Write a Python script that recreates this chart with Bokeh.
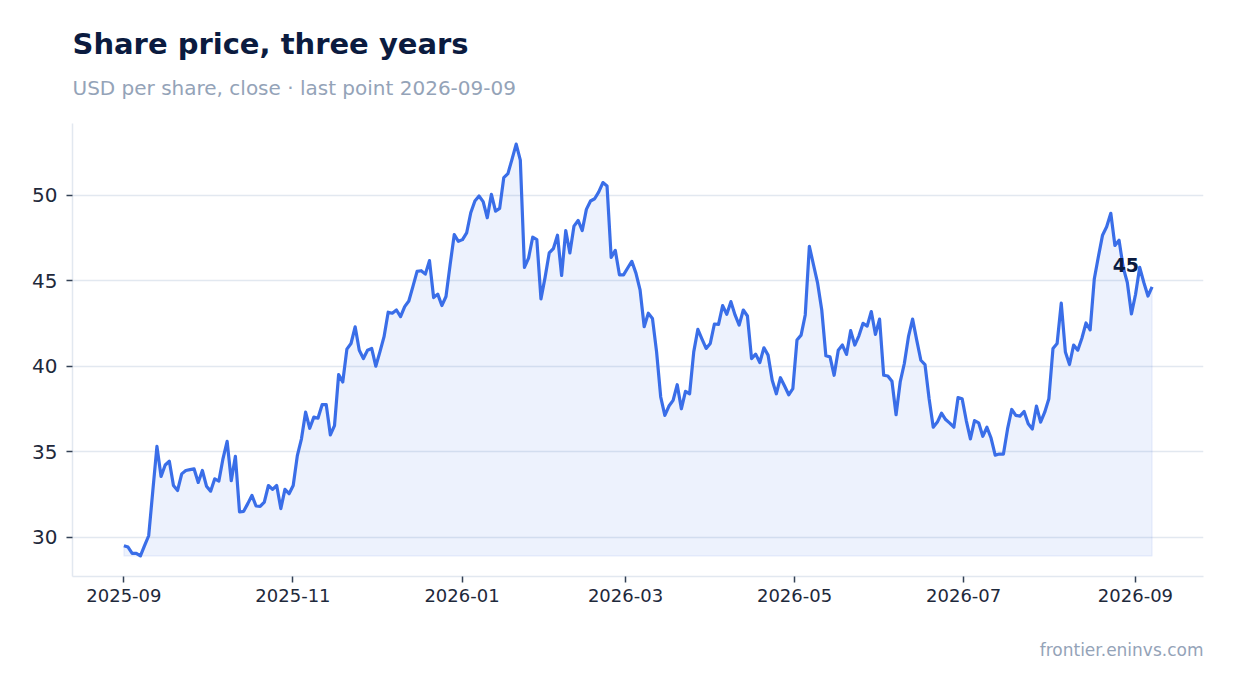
import numpy as np
import pandas as pd
from bokeh.plotting import figure
from bokeh.models import Range1d, Title, FixedTicker, MonthsTicker, DatetimeTickFormatter
from bokeh.core.properties import value
from bokeh.embed import file_html
from bokeh.resources import INLINE

# ---- data -------------------------------------------------------------
title_text = "Share price, three years"
subtitle_text = "USD per share, close \u00b7 last point 2026-09-09"
footer_text = "frontier.eninvs.com"
start_date = "2025-09-01"
end_date = "2026-09-07"

close = [
    29.50, 29.42, 29.05, 29.05, 28.90, 29.50, 30.08, 32.70, 35.31, 33.55,
    34.22, 34.44, 33.02, 32.73, 33.70, 33.90, 33.95, 33.99, 33.20, 33.90,
    32.98, 32.69, 33.41, 33.28, 34.60, 35.60, 33.30, 34.73, 31.47, 31.51,
    31.96, 32.44, 31.82, 31.80, 32.05, 33.02, 32.79, 33.02, 31.67, 32.79,
    32.54, 33.02, 34.77,
    35.75, 37.31, 36.37, 37.02, 36.96, 37.75, 37.75, 35.98, 36.53, 39.51,
    39.08, 41.00, 41.33, 42.31, 40.94, 40.45, 40.94, 41.04, 40.00, 40.84,
    41.73, 43.16, 43.10, 43.29, 42.90, 43.49, 43.82, 44.67, 45.55, 45.59,
    45.39, 46.18, 44.02, 44.22, 43.55, 44.08, 45.94, 47.70, 47.31, 47.41,
    47.80,
    48.98, 49.67, 49.96, 49.63, 48.69, 50.06, 49.08, 49.24, 51.04, 51.27,
    52.12, 53.00, 52.06, 45.78, 46.33, 47.55, 47.41, 43.94, 45.20, 46.63,
    46.88, 47.67, 45.31, 47.94, 46.63, 48.20, 48.53, 47.94, 49.18, 49.67,
    49.80, 50.20, 50.75, 50.55, 46.37, 46.78, 45.35, 45.35, 45.75, 46.14,
    45.45,
    44.47, 42.31, 43.10, 42.80, 40.84, 38.20, 37.12, 37.67, 38.00, 38.92,
    37.51, 38.53, 38.39, 40.84, 42.16, 41.59, 41.04, 41.33, 42.47, 42.45,
    43.55, 43.04, 43.78, 43.00, 42.41, 43.29,
    42.94, 40.45, 40.71, 40.22, 41.08, 40.65, 39.18, 38.39, 39.33, 38.84,
    38.33, 38.69, 41.53, 41.82, 43.00, 47.02, 45.94, 44.86, 43.29, 40.61,
    40.55, 39.47, 40.94, 41.24, 40.69, 42.08, 41.24, 41.78,
    42.51, 42.35, 43.20, 41.86, 42.76, 39.47, 39.43, 39.12, 37.16, 39.08,
    40.16, 41.73, 42.76, 41.53, 40.35, 40.10, 38.10, 36.43, 36.73, 37.25,
    36.88, 36.67, 36.43, 38.16, 38.10, 36.82, 35.75,
    36.82, 36.69, 35.90, 36.43, 35.80, 34.80, 34.86, 34.86, 36.33, 37.47,
    37.12, 37.08, 37.35, 36.63, 36.33, 37.67, 36.73, 37.31, 38.10, 41.04,
    41.33, 43.69, 40.84, 40.10, 41.24, 40.94,
    41.64, 42.53, 42.13, 45.10, 46.42, 47.67, 48.16, 48.95, 47.07, 47.37,
    45.79, 44.90, 43.06, 44.21, 45.79, 44.90, 44.11, 44.64,
]
y_ticks = [30, 35, 40, 45, 50]
tick_months = [1, 3, 5, 7, 9, 11]

# ---- derived ----------------------------------------------------------
dates = pd.date_range(start_date, end_date, periods=len(close))
ymin, ymax = min(close), max(close)
yspan = ymax - ymin
t0, t1 = dates[0], dates[-1]
tpad = (t1 - t0) * 0.05

LINE = "#3a6ee8"
NAVY = "#0b1b3f"
MUTED = "#94a3b8"
GRID = "#e2e8f0"
FONT = "DejaVu Sans"

W, H = 1226, 693
p = figure(
    width=W, height=H,
    x_axis_type="datetime",
    x_range=Range1d(t0 - tpad, t1 + tpad),
    y_range=Range1d(ymin - 0.05 * yspan, ymax + 0.05 * yspan),
    output_backend="svg", toolbar_location=None,
    min_border_left=72, min_border_right=23, min_border_top=123, min_border_bottom=117,
    outline_line_color=None, background_fill_color="white", border_fill_color="white",
)

# titles
sub = Title(text=subtitle_text, align="left", text_font=FONT, text_font_size="20px",
            text_font_style="normal", text_color=MUTED, standoff=47)
main = Title(text=title_text, align="left", text_font=FONT, text_font_size="29px",
             text_font_style="bold", text_color=NAVY, standoff=-20)
p.add_layout(sub, "above")
p.add_layout(main, "above")
foot = Title(text=footer_text, align="right", text_font=FONT, text_font_size="17px",
             text_font_style="normal", text_color=MUTED, standoff=67)
p.add_layout(foot, "below")

# area + line
poly_x = list(dates) + [t1, t0]
poly_y = list(close) + [ymin, ymin]
p.patch(poly_x, poly_y, fill_color=LINE, fill_alpha=0.09, line_color=LINE, line_alpha=0.08, line_width=1.5)
p.line(dates, close, line_color=LINE, line_width=3.2, line_join="round")

# last value label
p.text(x=[t1], y=[close[-1]], text=[f"{round(close[-1]):d}"],
       text_font=value(FONT), text_font_style="bold", text_font_size="19px",
       text_color=NAVY, text_align="right", text_baseline="middle",
       x_offset=-13, y_offset=-22)

# axes
p.xaxis.ticker = MonthsTicker(months=[m - 1 for m in tick_months])
p.xaxis.formatter = DatetimeTickFormatter(months="%Y-%m", days="%Y-%m", years="%Y-%m")
p.yaxis.ticker = FixedTicker(ticks=y_ticks)
for ax in (p.xaxis, p.yaxis):
    ax.axis_line_color = GRID
    ax.axis_line_width = 1.5
    ax.major_tick_line_color = "#334155"
    ax.major_tick_line_width = 1.5
    ax.major_tick_in = 0
    ax.major_tick_out = 6
    ax.minor_tick_line_color = None
    ax.major_label_text_font = FONT
    ax.major_label_text_color = "#1e293b"
p.xaxis.major_label_text_font_size = "18px"
p.yaxis.major_label_text_font_size = "20px"
p.yaxis.major_label_standoff = 9
p.xaxis.major_label_standoff = 6

p.xgrid.grid_line_color = None
p.ygrid.grid_line_color = GRID
p.ygrid.grid_line_width = 1.5

open("out.html", "w").write(file_html(p, INLINE))
